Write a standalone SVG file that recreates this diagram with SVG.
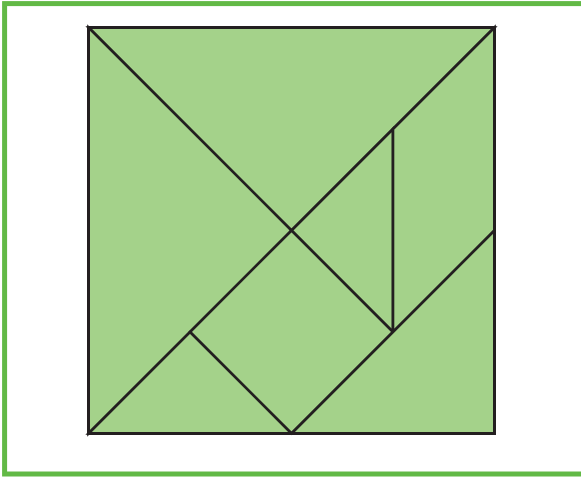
<svg xmlns="http://www.w3.org/2000/svg" width="581" height="477" viewBox="0 0 581 477">
<style>
.p{fill:#a4d28a;stroke:#231f20;stroke-width:2.6;stroke-linejoin:miter}
.frame{fill:none;stroke:#62b946;stroke-width:5}
</style>
<rect class="frame" x="4.6" y="3.6" width="620" height="470.4"/>
<g id="big-top"><polygon class="p" points="88.5,27.5 494.5,27.5 291.5,230.5"/></g>
<g id="big-left"><polygon class="p" points="88.5,27.5 291.5,230.5 88.5,433.5"/></g>
<g id="small-mid"><polygon class="p" points="291.5,230.5 393,129 393,332"/></g>
<g id="parallelogram"><polygon class="p" points="393,129 494.5,27.5 494.5,230.5 393,332"/></g>
<g id="square"><polygon class="p" points="291.5,230.5 393,332 291.5,433.5 190,332"/></g>
<g id="small-bottom"><polygon class="p" points="88.5,433.5 190,332 291.5,433.5"/></g>
<g id="medium"><polygon class="p" points="291.5,433.5 494.5,230.5 494.5,433.5"/></g>
<g id="outline"><rect x="88.5" y="27.5" width="406" height="406" fill="none" stroke="#231f20" stroke-width="3"/></g>
</svg>
